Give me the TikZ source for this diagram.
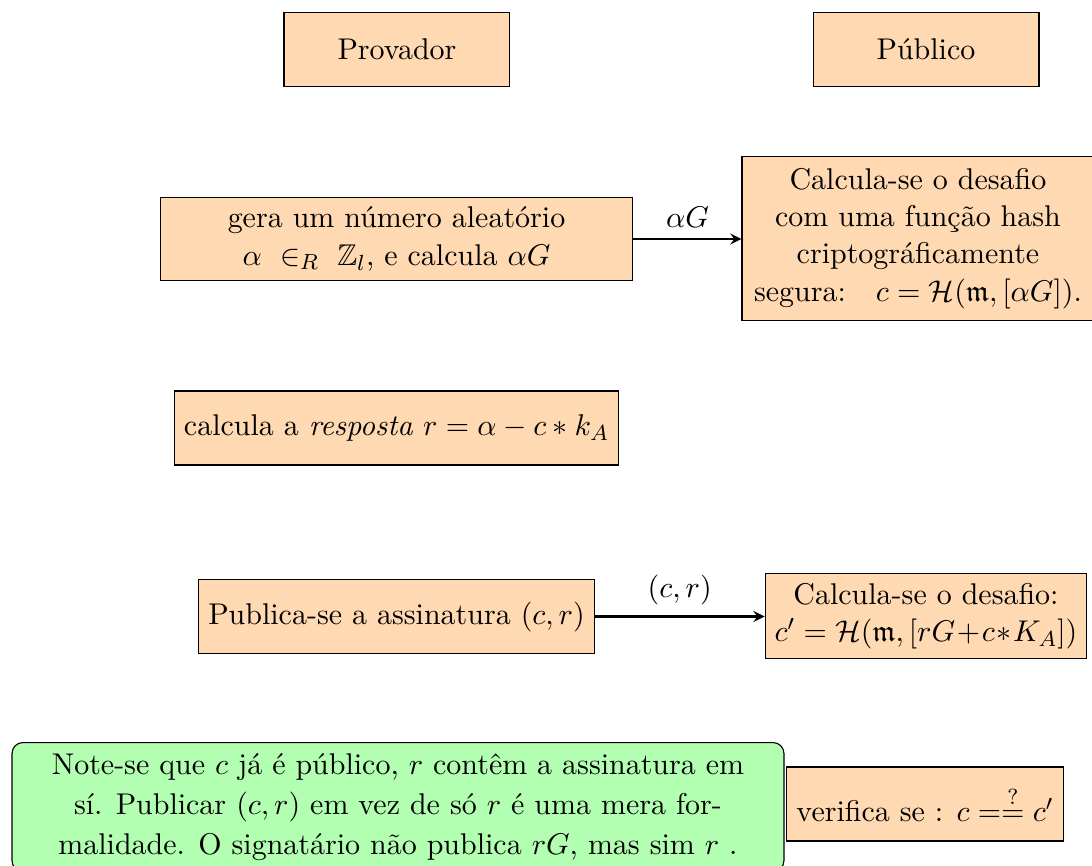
\documentclass[tikz,border=0pt,11pt]{standalone}
\usepackage{xcolor}
\usepackage{amsmath,amssymb}
\usepackage{tikz}
\usetikzlibrary{calc}
\tikzset{>=stealth}
\tikzset{caixa/.style={draw,fill=orange!30,minimum height=0.95cm,align=center,inner sep=3.5pt}}
\tikzset{titulo/.style={caixa,minimum width=2.9cm}}
\tikzset{nota/.style={draw,fill=green!30,rounded corners=4pt,align=center,inner xsep=6pt,inner ysep=4pt,minimum width=9.91cm}}

\begin{document}
\begin{tikzpicture}
      \useasboundingbox (0,0) rectangle (14.018,-11.104);
      \node[titulo] (prov) at (5.096,-0.635) {Provador};
      \node[titulo] (pub) at (11.887,-0.635) {P\'ublico};
      \node[caixa,minimum width=6.07cm] (gera) at (5.09,-3.068) {gera um n\'umero aleat\'orio\\ $\alpha\ \in_R\ \mathbb{Z}_l$, e calcula $\alpha G$};
      \node[caixa,inner sep=4.4pt] (hash) at (11.784,-3.062) {Calcula-se o desafio\\ com uma fun\c{c}\~ao hash\\ criptogr\'aficamente\\ segura:\quad$c=\mathcal{H}(\mathfrak{m},[\alpha G])$.};
      \node[caixa] (resp) at (5.09,-5.494) {calcula a \emph{resposta} $r=\alpha-c*k_A$};
      \node[caixa] (assin) at (5.09,-7.914) {Publica-se a assinatura $(c,r)$};
      \node[caixa] (desafio) at (11.887,-7.908) {Calcula-se o desafio:\\ $c'=\mathcal{H}(\mathfrak{m},[rG\!+\!c\!*\!K_A])$};
      \node[nota,anchor=north] (obs) at (5.109,-9.525) {Note-se que $c$ j\'a \'e p\'ublico, $r$ cont\^em a assinatura em\\[1pt] s\'i. Publicar $(c,r)$ em vez de s\'o $r$ \'e uma mera for-\\[1pt] malidade. O signat\'ario n\~ao publica $rG$, mas sim $r$ .};
      \node[caixa] (verif) at (11.874,-10.321) {verifica se : $c =\stackrel{?}{=} c'$};
      \draw[thick,->] (gera.east) -- node[above] {$\alpha G$} (gera.east -| hash.west);
      \draw[thick,->] (assin.east) -- node[above] {$(c,r)$} (assin.east -| desafio.west);
    \end{tikzpicture}
\end{document}
